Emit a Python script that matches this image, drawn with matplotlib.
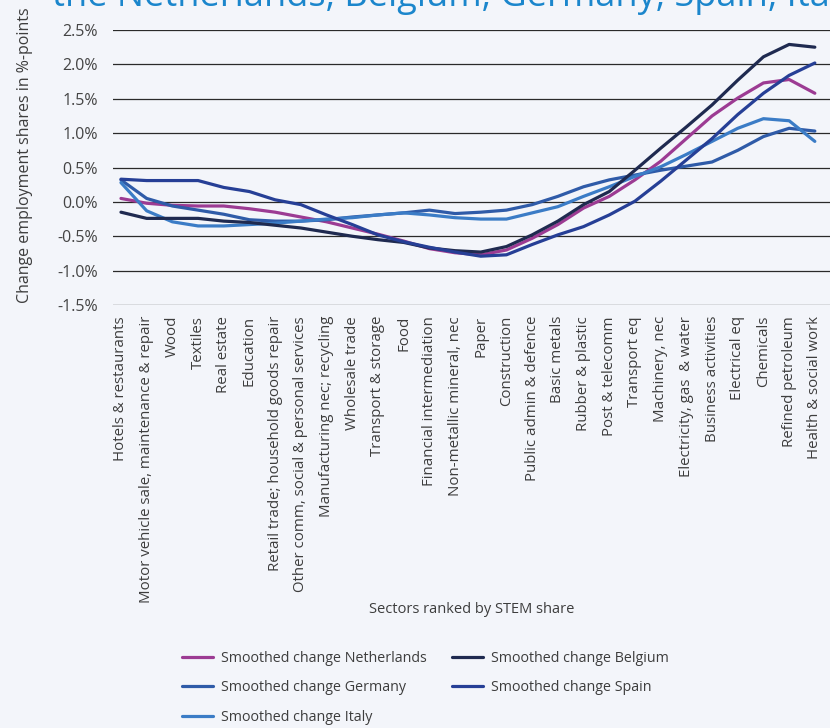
import numpy as np
import matplotlib
matplotlib.use("Agg")
import matplotlib.pyplot as plt

plt.rcParams['font.family'] = ['Open Sans', 'DejaVu Sans']

sectors = [
    "Hotels & restaurants",
    "Motor vehicle sale, maintenance & repair",
    "Wood",
    "Textiles",
    "Real estate",
    "Education",
    "Retail trade; household goods repair",
    "Other comm, social & personal services",
    "Manufacturing nec; recycling",
    "Wholesale trade",
    "Transport & storage",
    "Food",
    "Financial intermediation",
    "Non-metallic mineral, nec",
    "Paper",
    "Construction",
    "Public admin & defence",
    "Basic metals",
    "Rubber & plastic",
    "Post & telecomm",
    "Transport eq",
    "Machinery, nec",
    "Electricity, gas  & water",
    "Business activities",
    "Electrical eq",
    "Chemicals",
    "Refined petroleum",
    "Health & social work",
]

# smoothed change in employment shares, %-points
netherlands = [0.05, -0.02, -0.05, -0.06, -0.06, -0.10, -0.15, -0.22, -0.29, -0.38,
               -0.47, -0.57, -0.68, -0.74, -0.77, -0.70, -0.53, -0.33, -0.09, 0.08,
               0.32, 0.59, 0.92, 1.25, 1.51, 1.73, 1.78, 1.58]
belgium = [-0.15, -0.24, -0.24, -0.24, -0.28, -0.30, -0.34, -0.38, -0.44, -0.50,
           -0.55, -0.59, -0.67, -0.71, -0.73, -0.65, -0.48, -0.28, -0.04, 0.15,
           0.46, 0.78, 1.09, 1.41, 1.77, 2.11, 2.29, 2.25]
germany = [0.32, 0.05, -0.06, -0.12, -0.18, -0.26, -0.28, -0.28, -0.26, -0.22,
           -0.19, -0.16, -0.12, -0.17, -0.15, -0.12, -0.04, 0.08, 0.22, 0.32,
           0.39, 0.46, 0.52, 0.58, 0.75, 0.95, 1.07, 1.03]
spain = [0.33, 0.31, 0.31, 0.31, 0.21, 0.15, 0.03, -0.04, -0.19, -0.33,
         -0.48, -0.58, -0.66, -0.73, -0.79, -0.77, -0.62, -0.48, -0.36, -0.19,
         0.01, 0.30, 0.61, 0.92, 1.27, 1.58, 1.84, 2.02]
italy = [0.28, -0.13, -0.29, -0.35, -0.35, -0.33, -0.31, -0.28, -0.25, -0.23,
         -0.19, -0.16, -0.19, -0.23, -0.25, -0.25, -0.16, -0.07, 0.08, 0.22,
         0.37, 0.51, 0.69, 0.88, 1.07, 1.21, 1.18, 0.88]

bg = '#f3f5fa'
txt = '#3d3d3d'
fig = plt.figure(figsize=(8.3, 7.28), dpi=100, facecolor=bg)
ax = fig.add_axes([113/830, 1 - 305/728, 1 - 113/830, 275/728])
ax.set_facecolor(bg)

x = np.arange(len(sectors))
series = [
    ("Smoothed change Netherlands", netherlands, '#9c3b93'),
    ("Smoothed change Germany", germany, '#2f5ba8'),
    ("Smoothed change Italy", italy, '#3b7cc6'),
    ("Smoothed change Belgium", belgium, '#1f2a50'),
    ("Smoothed change Spain", spain, '#263f96'),
]
lines = {}
for k in [2, 1, 4, 0, 3]:
    name, vals, col = series[k]
    lines[k], = ax.plot(x, vals, color=col, lw=2.3, label=name,
                        solid_capstyle='round', zorder=3 + k * 0.1)

yt = np.arange(-1.5, 2.51, 0.5)
for v in yt:
    ax.axhline(v, color='#2a2a2a', lw=0.9, zorder=1)

ax.set_ylim(-1.5, 2.5)
ax.set_xlim(-0.31, 27.59)
ax.set_yticks(yt)
ax.set_yticklabels([f"{v:.1f}%" for v in yt], fontsize=11.5, color='#444444')
ax.set_xticks(x)
ax.set_xticklabels(sectors, rotation=90, fontsize=10.8, color=txt)
ax.tick_params(axis='y', length=0, pad=11)
ax.tick_params(axis='x', length=0, pad=8)
for s in ax.spines.values():
    s.set_visible(False)

ax.set_ylabel("Change employment shares in %-points", fontsize=11.5, color=txt)
ax.yaxis.set_label_coords(-80/717, (305 - 155) / 275)
ax.set_xlabel("Sectors ranked by STEM share", fontsize=10.5, color=txt,
              labelpad=-1)

leg_kw = dict(loc='upper left', frameon=False, fontsize=10.3, handlelength=2.2,
              handletextpad=0.55, labelspacing=1.0, labelcolor=txt,
              borderaxespad=0, borderpad=0)
fig.legend([lines[k] for k in (0, 1, 2)], [series[k][0] for k in (0, 1, 2)],
           bbox_to_anchor=(182/830, 1 - 651/728), **leg_kw)
fig.legend([lines[k] for k in (3, 4)], [series[k][0] for k in (3, 4)],
           bbox_to_anchor=(452/830, 1 - 651/728), **leg_kw)

fig.text(52/830, 1 - 6/728, "the Netherlands, Belgium, Germany, Spain, Italy",
         fontsize=26, color='#1b86cc', va='baseline', ha='left')

fig.savefig("out.png", dpi=100, facecolor=bg)
